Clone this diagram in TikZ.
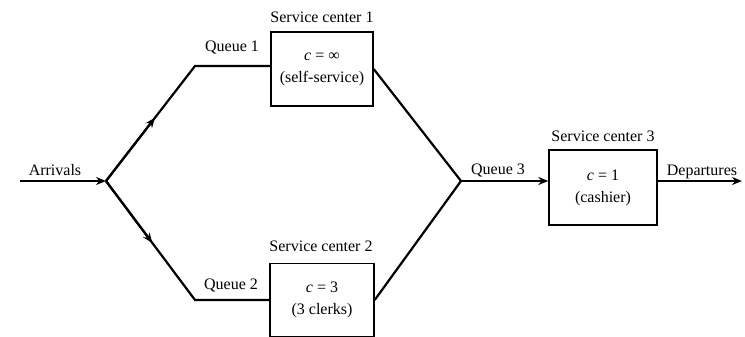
\documentclass[tikz,border=0pt]{standalone}
\usepackage{fontspec}
\setmainfont{Liberation Serif}
\usetikzlibrary{arrows.meta,calc}
\begin{document}
\begin{tikzpicture}[x=1pt,y=-1pt,
  txt/.style={font=\fontsize{16}{21}\selectfont, inner sep=0pt},
  center/.style={draw, line width=1.4pt, align=center, inner sep=0pt, font=\fontsize{16}{22}\selectfont},
  flow/.style={line width=2.2pt},
  tip/.style={-{Stealth[length=10pt,width=8pt]}}]
\useasboundingbox (0,0) rectangle (745,337);
% service centers
\node[center, minimum width=102pt, minimum height=74pt] (sc1) at (322,69) {\textit{c} = ∞\\(self-service)};
\node[center, minimum width=104pt, minimum height=73pt] (sc2) at (322,300) {\textit{c} = 3\\(3 clerks)};
\node[center, minimum width=108pt, minimum height=75pt] (sc3) at (603,187.5) {\textit{c} = 1\\(cashier)};
% labels
\node[txt] (l1) at (322,17) {Service center 1};
\node[txt] (l2) at (321,246) {Service center 2};
\node[txt] (l3) at (603,136) {Service center 3};
\node[txt] (q1) at (232,48) {Queue 1};
\node[txt] (q2) at (231,285) {Queue 2};
\node[txt] (q3) at (498,170) {Queue 3};
\node[txt] (arr) at (55,170) {Arrivals};
\node[txt] (dep) at (702,172) {Departures};
% points
\coordinate (start) at (20,181);
\coordinate (split) at (106,181);
\coordinate (b1) at (195,66);
\coordinate (b2) at (195,300);
\coordinate (merge) at (461,181);
\coordinate (end) at (742,181);
% connectors
\draw[flow,tip] (start) -- (split);
\draw[flow,line join=miter] (split) -- (b1) -- (b1 -| sc1.west);
\draw[flow,line join=miter] (split) -- (b2) -- (b2 -| sc2.west);
\draw[flow,tip] (split) -- ($(split)!0.55!(b1)$);
\draw[flow,tip] (split) -- ($(split)!0.52!(b2)$);
\draw[flow] (sc1.east) -- (merge);
\draw[flow] (sc2.east) -- (merge);
\draw[flow,tip] (merge) -- (merge -| sc3.west);
\draw[flow,tip] (merge -| sc3.east) -- (end);
\end{tikzpicture}
\end{document}
